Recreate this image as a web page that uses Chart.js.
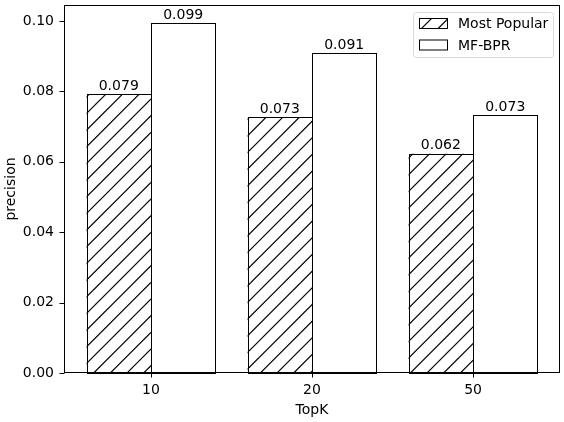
<!DOCTYPE html>
<html>
<head>
<meta charset="utf-8">
<script src="https://cdn.jsdelivr.net/npm/chart.js@4.4.1/dist/chart.umd.min.js"></script>
<style>
  html, body { margin: 0; padding: 0; background: #ffffff; }
  #wrap { width: 564px; height: 422px; }
</style>
</head>
<body>
<div id="wrap"><canvas id="precisionChart" width="564" height="422"></canvas></div>
<script>
/* DATA */
const categories = ['10', '20', '50'];
const mostPopular = [0.0793, 0.0726, 0.0623];
const mfBpr = [0.0993, 0.0908, 0.0732];
const yTicks = [0, 0.02, 0.04, 0.06, 0.08, 0.10];

const FONT = 'DejaVu Sans';

const canvas = document.getElementById('precisionChart');
const ctx = canvas.getContext('2d');

/* HATCH PATTERN ("/") */
function makeHatch() {
    const tile = document.createElement('canvas');
    tile.width = 50;
    tile.height = 50;
    const t = tile.getContext('2d');
    t.fillStyle = '#ffffff';
    t.fillRect(0, 0, 50, 50);
    t.strokeStyle = '#000000';
    t.lineWidth = 1.2;
    const step = 50 / 3;
    for (let k = -3; k <= 9; k++) {
        const c = k * step;
        t.beginPath();
        t.moveTo(c + 50, -50);
        t.lineTo(c - 100, 100);
        t.stroke();
    }
    return ctx.createPattern(tile, 'repeat');
}
const hatch = makeHatch();

const toPoints = arr => arr.map((v, i) => ({ x: i, y: v }));
const px = v => Math.round(v) + 0.5;

/* custom drawing: crisp bar edges, ticks, frame, value labels, legend */
const extras = {
    id: 'extras',
    afterDatasetsDraw(chart) {
        const c = chart.ctx;
        const a = chart.chartArea;
        const xs = chart.scales.x;
        const ys = chart.scales.y;
        c.save();
        c.strokeStyle = '#000000';
        c.lineWidth = 1;

        // bar outlines
        chart.data.datasets.forEach((ds, di) => {
            chart.getDatasetMeta(di).data.forEach(bar => {
                const l = px(bar.x - bar.width / 2), r = px(bar.x + bar.width / 2);
                const t = px(bar.y), b = px(bar.base);
                c.strokeRect(l, t, r - l, b - t);
            });
        });

        // value labels
        c.font = '14px "' + FONT + '"';
        c.fillStyle = '#000000';
        c.textAlign = 'center';
        c.textBaseline = 'bottom';
        chart.data.datasets.forEach((ds, di) => {
            chart.getDatasetMeta(di).data.forEach((bar, i) => {
                c.fillText(ds.data[i].y.toFixed(3), bar.x, bar.y - 1);
            });
        });

        // frame
        const L = px(a.left), R = px(a.right) - 1, T = px(a.top), B = px(a.bottom) - 1;
        c.strokeRect(L, T, R - L, B - T);

        // tick marks
        c.beginPath();
        categories.forEach((_, i) => {
            const x = px(xs.getPixelForValue(i));
            c.moveTo(x, B);
            c.lineTo(x, B + 5);
        });
        yTicks.forEach(v => {
            const y = px(ys.getPixelForValue(v));
            c.moveTo(L, y);
            c.lineTo(L - 5, y);
        });
        c.stroke();

        // legend
        const lx = 413.5, ly = 12.5, lw = 140, lh = 45;
        c.beginPath();
        c.roundRect(lx, ly, lw, lh, 3);
        c.fillStyle = 'rgba(255,255,255,0.8)';
        c.fill();
        c.strokeStyle = '#d9d9d9';
        c.stroke();
        const items = [
            { label: 'Most Popular', fill: hatch },
            { label: 'MF-BPR', fill: '#ffffff' }
        ];
        items.forEach((it, i) => {
            const py = 18.5 + i * 21.5;
            c.fillStyle = it.fill;
            c.fillRect(419.5, py, 28, 10);
            c.strokeStyle = '#000000';
            c.strokeRect(419.5, py, 28, 10);
            c.fillStyle = '#000000';
            c.textAlign = 'left';
            c.textBaseline = 'middle';
            c.font = '14px "' + FONT + '"';
            c.fillText(it.label, 458, py + 6);
        });
        c.restore();
    }
};

new Chart(ctx, {
    type: 'bar',
    data: {
        datasets: [
            {
                label: 'Most Popular',
                data: toPoints(mostPopular),
                backgroundColor: hatch,
                borderWidth: 0,
                categoryPercentage: 0.8,
                barPercentage: 1.0
            },
            {
                label: 'MF-BPR',
                data: toPoints(mfBpr),
                backgroundColor: '#ffffff',
                borderWidth: 0,
                categoryPercentage: 0.8,
                barPercentage: 1.0
            }
        ]
    },
    options: {
        responsive: false,
        animation: false,
        devicePixelRatio: 1,
        layout: { padding: { top: 5, right: 4, left: 0, bottom: 0 } },
        plugins: {
            legend: { display: false },
            tooltip: { enabled: false }
        },
        scales: {
            x: {
                type: 'linear',
                offset: false,
                min: -0.54,
                max: 2.54,
                afterBuildTicks: s => { s.ticks = categories.map((_, i) => ({ value: i })); },
                afterFit: s => { s.height = 49; s.paddingLeft = 0; s.paddingRight = 0; },
                grid: { display: false, drawTicks: false },
                border: { display: false },
                ticks: {
                    color: '#000000',
                    font: { family: FONT, size: 14 },
                    padding: 9,
                    maxRotation: 0,
                    callback: v => categories[v]
                },
                title: {
                    display: true,
                    text: 'TopK',
                    color: '#000000',
                    font: { family: FONT, size: 14 },
                    padding: { top: 0, bottom: 3 }
                }
            },
            y: {
                min: 0,
                max: 0.10455,
                afterBuildTicks: s => { s.ticks = yTicks.map(v => ({ value: v })); },
                afterFit: s => { s.width = 64; s.paddingTop = 0; s.paddingBottom = 0; },
                grid: { display: false, drawTicks: false },
                border: { display: false },
                ticks: {
                    color: '#000000',
                    font: { family: FONT, size: 14 },
                    padding: 10,
                    callback: v => v.toFixed(2)
                },
                title: {
                    display: true,
                    text: 'precision',
                    color: '#000000',
                    font: { family: FONT, size: 14 },
                    padding: { top: 3, bottom: 0 }
                }
            }
        }
    },
    plugins: [extras]
});
</script>
</body>
</html>
